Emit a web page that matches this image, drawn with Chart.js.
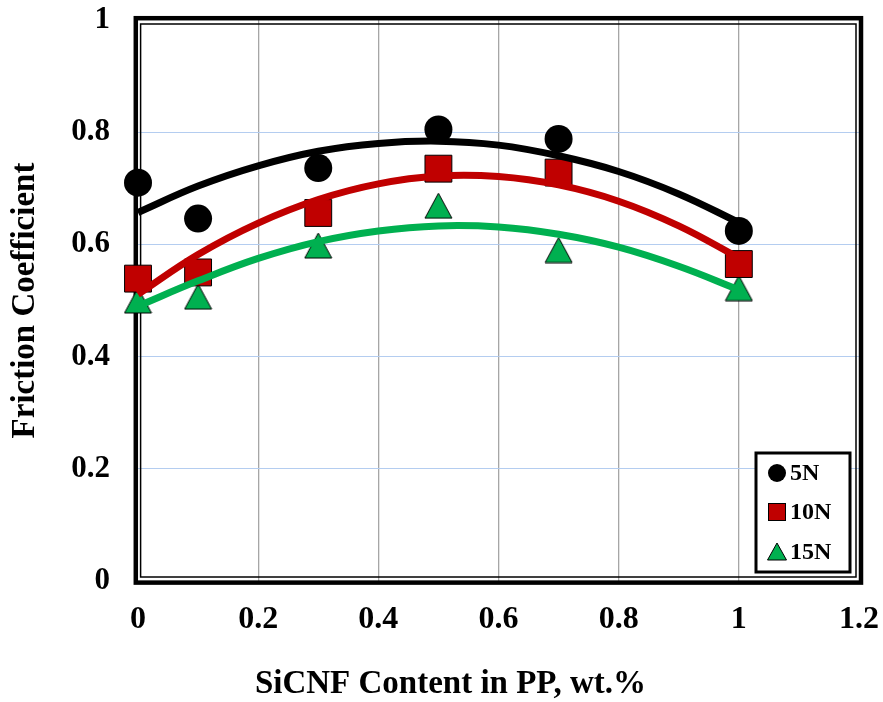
<!DOCTYPE html>
<html>
  <head>
    <script src="https://cdn.jsdelivr.net/npm/chart.js@4.4.0/dist/chart.umd.min.js"></script>
    <style>
      body { margin: 0; background: #fff; }
    </style>
  </head>
  <body>
    <canvas id="cofChart" width="883" height="702"></canvas>
    <script>
      // SiCNF content (wt.%) of the tested samples
      var contents = [0, 0.1, 0.3, 0.5, 0.7, 1.0];
      // measured friction coefficient for each load
      var cof5N = [0.710, 0.646, 0.736, 0.805, 0.788, 0.624];
      var cof10N = [0.539, 0.550, 0.656, 0.735, 0.728, 0.565];
      var cof15N = [0.500, 0.507, 0.598, 0.669, 0.590, 0.522];
      // 2nd order trend curves, sampled every 0.1 wt.%
      var trendX = [0, 0.1, 0.2, 0.3, 0.4, 0.5, 0.6, 0.7, 0.8, 0.9, 1.0];
      var trend5N = [0.657, 0.704, 0.740, 0.766, 0.780, 0.784, 0.777, 0.758, 0.730, 0.690, 0.639];
      var trend10N = [0.511, 0.582, 0.638, 0.680, 0.708, 0.722, 0.721, 0.706, 0.677, 0.633, 0.576];
      var trend15N = [0.490, 0.535, 0.575, 0.605, 0.624, 0.633, 0.631, 0.618, 0.595, 0.561, 0.519];
      var loadLabels = ["5N", "10N", "15N"];
      var xTicks = [0, 0.2, 0.4, 0.6, 0.8, 1, 1.2];
      var yTicks = [0, 0.2, 0.4, 0.6, 0.8, 1];
      var xTitle = "SiCNF Content in PP, wt.%";

      var RED = "#C00000";
      var GREEN = "#00B050";
      var FONT = "'Liberation Serif', 'Times New Roman', serif";

      function pairs(xs, ys) {
        return xs.map(function(x, i) { return { x: x, y: ys[i] }; });
      }

      // triangle marker centred on its bounding box
      function triangleMarker(w, h, fill) {
        var c = document.createElement("canvas");
        c.width = w + 2;
        c.height = h + 2;
        var g = c.getContext("2d");
        g.beginPath();
        g.moveTo(c.width / 2, 1);
        g.lineTo(c.width - 1, c.height - 1);
        g.lineTo(1, c.height - 1);
        g.closePath();
        g.fillStyle = fill;
        g.fill();
        g.lineWidth = 1;
        g.strokeStyle = "#000";
        g.stroke();
        return c;
      }
      var triBig = triangleMarker(27, 25, GREEN);

      // double frame round the plot area
      var framePlugin = {
        id: "frame",
        beforeDatasetsDraw: function(chart) {
          var a = chart.chartArea, ctx = chart.ctx;
          ctx.save();
          ctx.strokeStyle = "#000";
          ctx.lineWidth = 4.5;
          ctx.strokeRect(a.left - 2.2, a.top - 1.8, a.right - a.left + 4.2, a.bottom - a.top + 3.4);
          ctx.lineWidth = 1.5;
          ctx.strokeRect(a.left + 2.6, a.top + 4, a.right - a.left - 5.6, a.bottom - a.top - 8);
          ctx.restore();
        }
      };

      // x axis title, centred on the page rather than on the plot
      var xTitlePlugin = {
        id: "xTitle",
        afterDraw: function(chart) {
          var ctx = chart.ctx;
          ctx.save();
          ctx.fillStyle = "#000";
          ctx.font = "bold 33px " + FONT;
          ctx.textAlign = "center";
          ctx.textBaseline = "middle";
          ctx.fillText(xTitle, chart.width / 2 + 9, 684);
          ctx.restore();
        }
      };

      // boxed legend in the lower right corner
      var legendPlugin = {
        id: "boxLegend",
        afterDraw: function(chart) {
          var a = chart.chartArea, ctx = chart.ctx;
          var right = a.right - 9, bottom = a.bottom - 9;
          var left = right - 94, top = bottom - 119;
          ctx.save();
          ctx.fillStyle = "#fff";
          ctx.fillRect(left, top, 94, 119);
          ctx.lineWidth = 3;
          ctx.strokeStyle = "#000";
          ctx.strokeRect(left, top, 94, 119);
          var mx = left + 21;
          var rows = [top + 20, top + 59, top + 99];
          // circle
          ctx.beginPath();
          ctx.arc(mx, rows[0], 9, 0, Math.PI * 2);
          ctx.fillStyle = "#000";
          ctx.fill();
          // square
          ctx.fillStyle = RED;
          ctx.fillRect(mx - 8.5, rows[1] - 8.5, 17, 17);
          ctx.lineWidth = 1;
          ctx.strokeRect(mx - 8.5, rows[1] - 8.5, 17, 17);
          // triangle
          ctx.beginPath();
          ctx.moveTo(mx, rows[2] - 9);
          ctx.lineTo(mx + 9.5, rows[2] + 8);
          ctx.lineTo(mx - 9.5, rows[2] + 8);
          ctx.closePath();
          ctx.fillStyle = GREEN;
          ctx.fill();
          ctx.stroke();
          ctx.fillStyle = "#000";
          ctx.font = "bold 24px " + FONT;
          ctx.textBaseline = "middle";
          for (var i = 0; i < 3; i++) {
            ctx.fillText(loadLabels[i], mx + 13, rows[i] + 1);
          }
          ctx.restore();
        }
      };

      function trendSet(ys, color) {
        return {
          type: "line",
          data: pairs(trendX, ys),
          borderColor: color,
          borderWidth: 7,
          pointRadius: 0,
          tension: 0.4,
          fill: false,
          order: 0,
          clip: false
        };
      }

      new Chart(document.getElementById("cofChart"), {
        type: "scatter",
        data: {
          datasets: [
            {
              label: loadLabels[0],
              data: pairs(contents, cof5N),
              pointStyle: "circle",
              pointRadius: 14,
              backgroundColor: "#000",
              borderColor: "#000",
              borderWidth: 0,
              order: 1,
              clip: false
            },
            {
              label: loadLabels[1],
              data: pairs(contents, cof10N),
              pointStyle: "rect",
              pointRadius: 19,
              backgroundColor: RED,
              borderColor: "#000",
              borderWidth: 1,
              order: 1,
              clip: false
            },
            {
              label: loadLabels[2],
              data: pairs(contents, cof15N),
              pointStyle: triBig,
              pointRadius: 14,
              backgroundColor: GREEN,
              borderColor: "#000",
              order: 1,
              clip: false
            },
            trendSet(trend5N, "#000"),
            trendSet(trend10N, RED),
            trendSet(trend15N, GREEN)
          ]
        },
        options: {
          responsive: false,
          animation: false,
          events: [],
          layout: { padding: { top: 17, right: 24, left: 0, bottom: 0 } },
          plugins: {
            legend: { display: false },
            tooltip: { enabled: false }
          },
          scales: {
            x: {
              type: "linear",
              min: 0,
              max: 1.2,
              afterBuildTicks: function(s) { s.ticks = xTicks.map(function(v) { return { value: v }; }); },
              afterFit: function(s) {
                s.height = 121;
                s.paddingLeft = 0;
                s.paddingRight = 0;
              },
              border: { display: false },
              grid: {
                drawTicks: false,
                lineWidth: 1.3,
                color: function(c) {
                  var v = c.tick.value;
                  return v > 0 && v < 1.2 ? "#a6a6a6" : "rgba(0,0,0,0)";
                }
              },
              ticks: {
                padding: 20,
                color: "#000",
                font: { family: FONT, size: 32, weight: "bold" },
                callback: function(v) { return String(+v.toFixed(1)); }
              },
              title: { display: false }
            },
            y: {
              type: "linear",
              min: 0,
              max: 1,
              afterBuildTicks: function(s) { s.ticks = yTicks.map(function(v) { return { value: v }; }); },
              afterFit: function(s) {
                s.width = 138;
                s.paddingTop = 0;
                s.paddingBottom = 0;
              },
              border: { display: false },
              grid: {
                drawTicks: false,
                lineWidth: 1,
                color: function(c) {
                  var v = c.tick.value;
                  return v > 0 && v < 1 ? "#b4cdf0" : "rgba(0,0,0,0)";
                }
              },
              ticks: {
                padding: 28,
                color: "#000",
                font: { family: FONT, size: 31, weight: "bold" },
                callback: function(v) { return String(+v.toFixed(1)); }
              },
              title: {
                display: true,
                text: "Friction Coefficient",
                color: "#000",
                font: { family: FONT, size: 33, weight: "bold" },
                padding: { top: 6, bottom: 0 }
              }
            }
          }
        },
        plugins: [framePlugin, xTitlePlugin, legendPlugin]
      });
    </script>
  </body>
</html>
